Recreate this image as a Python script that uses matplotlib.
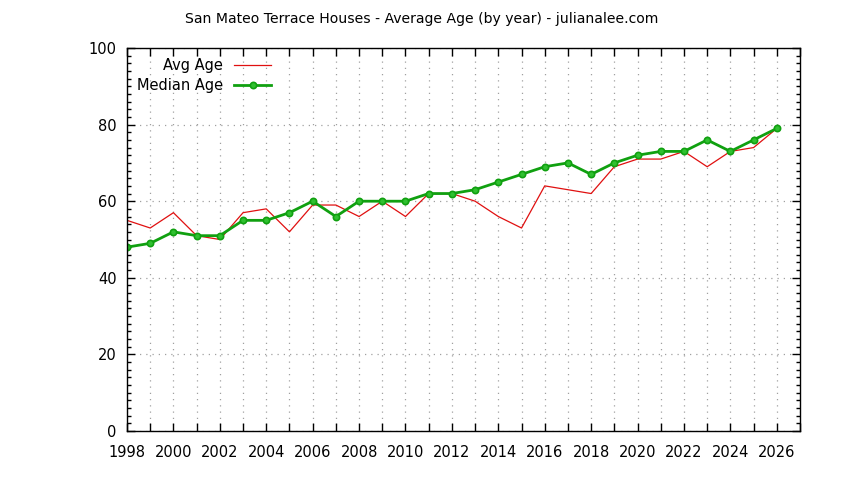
import matplotlib
matplotlib.use('Agg')
from matplotlib import pyplot as plt
from matplotlib.ticker import MultipleLocator

years = list(range(1998, 2027))
avg_age = [55, 53, 57, 51, 50, 57, 58, 52, 59, 59, 56, 60, 56, 62, 62, 60,
           56, 53, 64, 63, 62, 69, 71, 71, 73, 69, 73, 74, 79]
median_age = [48, 49, 52, 51, 51, 55, 55, 57, 60, 56, 60, 60, 60, 62, 62, 63,
              65, 67, 69, 70, 67, 70, 72, 73, 73, 76, 73, 76, 79]

plt.rcParams['font.family'] = ['DejaVu Sans']
plt.rcParams['font.size'] = 10

fig = plt.figure(figsize=(8.44, 4.8), dpi=100)
ax = fig.add_axes([127 / 844, 1 - 431 / 480, (800 - 127) / 844, (431 - 48) / 480])

ax.plot(years, avg_age, color='#e01010', lw=0.9, label='Avg Age')
ax.plot(years, median_age, color='#10a010', lw=2, marker='o', ms=4.5,
        mfc='#30c030', mec='#10a010', mew=1.2, label='Median Age')

ax.set_xlim(1998, 2027)
ax.set_ylim(0, 100)
ax.set_xticks(range(1998, 2028))
ax.set_xticklabels([str(y) if y % 2 == 0 and y <= 2026 else '' for y in range(1998, 2028)])
ax.yaxis.set_major_locator(MultipleLocator(20))
ax.yaxis.set_minor_locator(MultipleLocator(2))
ax.tick_params(which='both', direction='in', top=True, right=True, labelsize=10.5)
ax.tick_params(which='major', length=6, width=1)
ax.tick_params(which='minor', length=3, width=1)
ax.tick_params(axis='x', pad=10)
ax.tick_params(axis='y', pad=7.5)
ax.grid(True, which='major', color='#a0a0a0', ls=(0, (1, 4)), lw=0.9)
for s in ax.spines.values():
    s.set_linewidth(1)

leg = ax.legend(loc='upper left', bbox_to_anchor=(0.0, 1.0), frameon=False,
                markerfirst=False, handlelength=2.6, fontsize=10.5,
                borderaxespad=0.3, labelspacing=0.35, handletextpad=0.7)
for t in leg.get_texts():
    t.set_ha('right')
leg._legend_box.align = 'right'

fig.text(422 / 844, 1 - 19 / 480, 'San Mateo Terrace Houses - Average Age (by year) - julianalee.com',
         ha='center', va='center', fontsize=10.1)

fig.savefig('out.png', dpi=100)
